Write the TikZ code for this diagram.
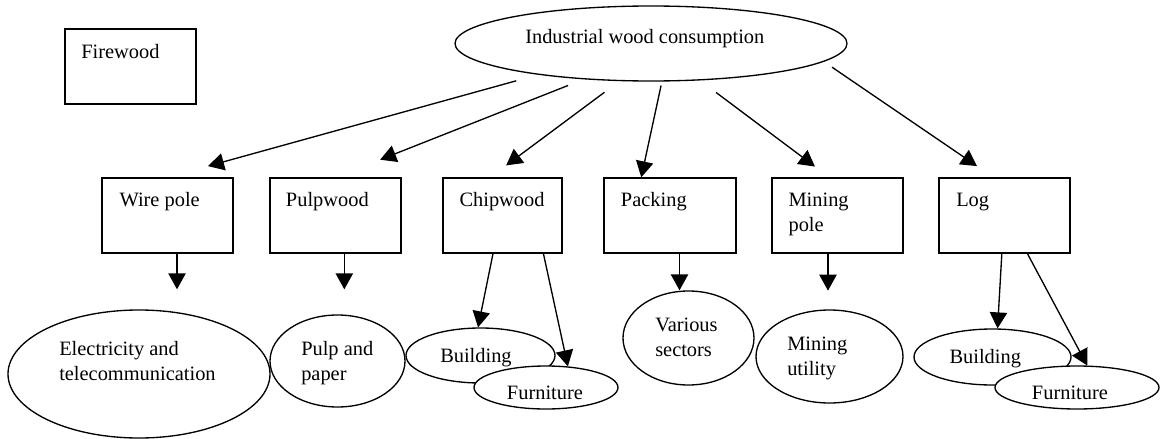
\documentclass[tikz,border=0pt]{standalone}
\usepackage{fontspec}
\setmainfont{Liberation Serif}
\usetikzlibrary{shapes.geometric,arrows.meta}

\begin{document}
\begin{tikzpicture}[x=0.75pt,y=0.75pt,yscale=-1,xscale=1,
    box/.style={draw,rectangle,line width=1pt,inner sep=0pt,minimum height=56.25pt},
    ell/.style={draw,ellipse,line width=1pt,fill=white,inner sep=0pt},
    lbl/.style={anchor=base west,inner sep=0pt,align=left,font=\fontsize{15.3}{18.75}\selectfont},
    arr/.style={line width=1pt,-{Triangle[length=12pt,width=13pt]}}]
        \useasboundingbox (0,0) rectangle (1161,439);

        % top row
        \node[ell,minimum width=294pt,minimum height=56.25pt] (ind) at (651,43.5) {};
        \node[lbl] (indT) at (525,43.3) {Industrial wood consumption};
        \node[box,minimum width=98.25pt] (fire) at (130.5,66.5) {};
        \node[lbl] (fireT) at (81,58.3) {Firewood};

        % middle row
        \node[box,minimum width=98.25pt] (wire) at (167.5,215.5) {};
        \node[box,minimum width=98.25pt] (pulp) at (335.5,215.5) {};
        \node[box,minimum width=89.25pt] (chip) at (502.5,215.5) {};
        \node[box,minimum width=99pt] (pack) at (670,215.5) {};
        \node[box,minimum width=98.25pt] (mine) at (837.5,215.5) {};
        \node[box,minimum width=98.25pt] (log) at (1004.5,215.5) {};
        \node[lbl] (wireT) at (119.3,206.7) {Wire pole};
        \node[lbl] (pulpT) at (285.7,206.7) {Pulpwood};
        \node[lbl] (chipT) at (459.3,206.7) {Chipwood};
        \node[lbl] (packT) at (620.7,206.7) {Packing};
        \node[lbl] (mineT) at (788.3,231.7) {Mining\\pole};
        \node[lbl] (logT) at (956,206.7) {Log};

        % bottom row
        \node[ell,minimum width=196.5pt,minimum height=96pt] (elec) at (139,374) {};
        \node[lbl] (elecT) at (59,380) {Electricity and\\telecommunication};
        \node[ell,minimum width=101.25pt,minimum height=69pt] (paper) at (337.5,361) {};
        \node[lbl] (paperT) at (301,380) {Pulp and\\paper};
        \node[ell,minimum width=111.75pt,minimum height=41.25pt] (chipB) at (480.5,355.5) {};
        \node[lbl] (chipBT) at (440,362.7) {Building};
        \node[ell,minimum width=108pt,minimum height=32.25pt] (chipF) at (546,387.5) {};
        \node[lbl] (chipFT) at (506.7,399) {Furniture};
        \node[ell,minimum width=98.25pt,minimum height=70.5pt] (vari) at (688.5,338) {};
        \node[lbl] (variT) at (655,356) {Various\\sectors};
        \node[ell,minimum width=110.25pt,minimum height=69.75pt] (util) at (829.5,356.5) {};
        \node[lbl] (utilT) at (787,375) {Mining\\utility};
        \node[ell,minimum width=117.75pt,minimum height=42pt] (logB) at (992.5,357) {};
        \node[lbl] (logBT) at (949.3,363.3) {Building};
        \node[ell,minimum width=123pt,minimum height=32.25pt] (logF) at (1077,387.5) {};
        \node[lbl] (logFT) at (1031.7,399) {Furniture};

        % arrows from the top
        \draw[arr,shorten <=17pt,shorten >=31.5pt] (ind) -- (wire.north);
        \draw[arr,shorten <=12.5pt,shorten >=36pt] (ind.208) -- (pulp.north);
        \draw[arr,shorten <=14pt,shorten >=15pt] (ind.230) -- (chip.108);
        \draw[arr,shorten <=3pt] (ind.-74) -- (pack.127);
        \draw[arr,shorten <=15pt,shorten >=13.5pt] (ind.-37) -- (mine.102);
        \draw[arr,shorten <=7.4pt,shorten >=15pt] (ind.-6.5) -- (log.106);

        % arrows to the uses
        \draw[arr,shorten >=15pt] (wire.-76) -- (wire.-76 |- elec.north);
        \draw[arr,shorten >=18.75pt] (pulp.-77) -- (pulp.-77 |- paper.north);
        \draw[arr,shorten >=14pt] (mine.-104) -- (mine.-104 |- util.north);
        \draw[arr] (pack.-76) -- (pack.-76 |- vari.north);
        \draw[arr] (chip.-104) -- (chipB.95);
        \draw[arr] (chip.-43) -- (chipF.44);
        \draw[arr] (log.-94) -- (logB.80);
        \draw[arr] (log.-59) -- (logF.65);
\end{tikzpicture}
\end{document}
